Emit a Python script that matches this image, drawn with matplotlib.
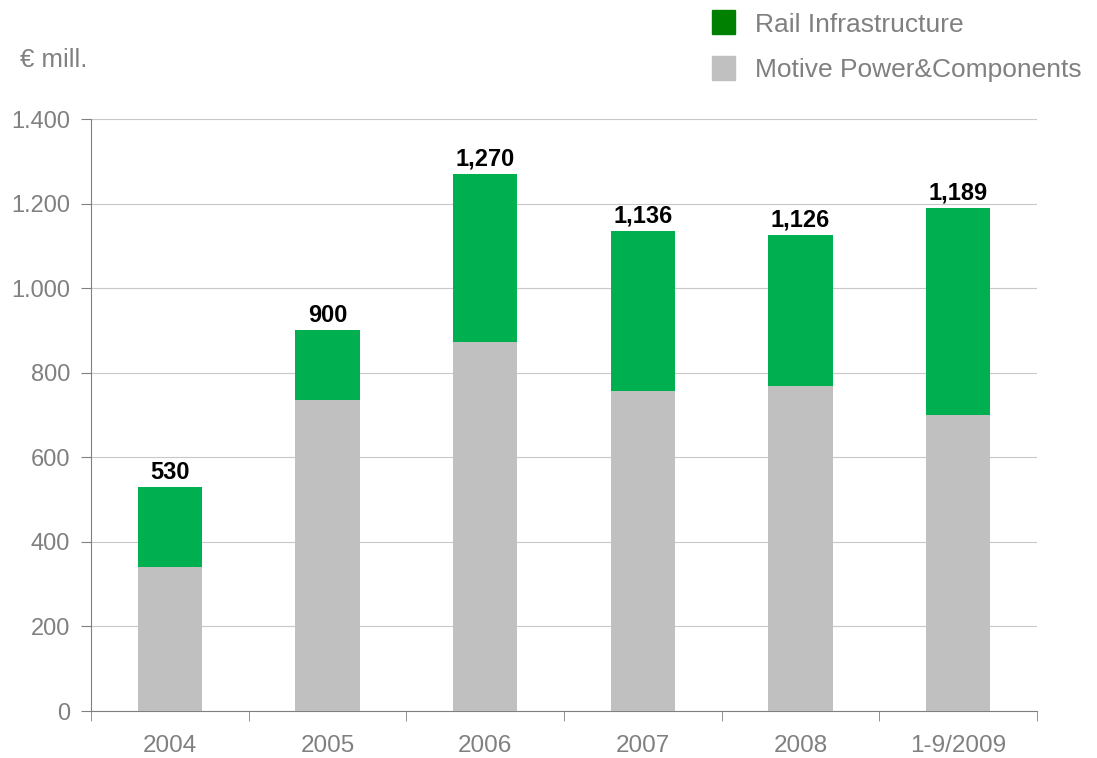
import matplotlib.pyplot as plt
from matplotlib.patches import Rectangle
from matplotlib.ticker import FuncFormatter

plt.rcParams["font.family"] = ["Liberation Sans", "DejaVu Sans"]

years = ["2004", "2005", "2006", "2007", "2008", "1-9/2009"]
motive_power = [340, 735, 873, 757, 768, 700]
totals = [530, 900, 1270, 1136, 1126, 1189]
rail_infra = [t - m for t, m in zip(totals, motive_power)]
total_labels = ["530", "900", "1,270", "1,136", "1,126", "1,189"]

GREEN = "#00B050"
GREEN_LEGEND = "#008000"
GREY = "#C0C0C0"
TEXT = "#808080"

fig = plt.figure(figsize=(10.97, 7.58), dpi=100)
ax = fig.add_axes([91 / 1097, 1 - 711 / 758, (1037 - 91) / 1097, (711 - 119) / 758])

x = range(len(years))
ax.bar(x, motive_power, width=0.41, color=GREY, zorder=3)
ax.bar(x, rail_infra, width=0.41, bottom=motive_power, color=GREEN, zorder=3)
for xi, t, lab in zip(x, totals, total_labels):
    ax.text(xi, t + 8, lab, ha="center", va="bottom", fontsize=17,
            fontweight="bold", color="black")

ax.set_xlim(-0.5, len(years) - 0.5)
ax.set_ylim(0, 1400)
ax.set_yticks(range(0, 1401, 200))
ax.yaxis.set_major_formatter(FuncFormatter(lambda v, _: f"{int(v):,}".replace(",", ".")))
ax.yaxis.grid(True, color="#C8C8C8", linewidth=0.8, zorder=0)

ax.set_xticks(list(x))
ax.set_xticklabels(years)
ax.set_xticks([i - 0.5 for i in range(len(years) + 1)], minor=True)
ax.tick_params(axis="x", which="major", length=0, pad=17, labelsize=17.5, labelcolor=TEXT)
ax.tick_params(axis="x", which="minor", length=7, color="#808080", direction="out")
ax.tick_params(axis="y", length=7, color="#808080", labelsize=17, labelcolor=TEXT, pad=8)

for side in ["top", "right"]:
    ax.spines[side].set_visible(False)
for side in ["left", "bottom"]:
    ax.spines[side].set_color("#808080")
    ax.spines[side].set_linewidth(0.8)

fig.text(20 / 1097, 1 - 60 / 758, "€ mill.", fontsize=18.5, color=TEXT, va="center")

# legend drawn by hand to match the original layout
for i, (lab, col) in enumerate([("Rail Infrastructure", GREEN_LEGEND),
                                ("Motive Power&Components", GREY)]):
    yc = 22 + i * 46
    fig.patches.append(Rectangle((712 / 1097, 1 - (yc + 11.5) / 758), 23 / 1097, 23 / 758,
                                 transform=fig.transFigure, color=col))
    fig.text(755 / 1097, 1 - (yc + 2.5) / 758, lab, fontsize=19, color=TEXT, va="center")

fig.savefig("out.png", dpi=100)
